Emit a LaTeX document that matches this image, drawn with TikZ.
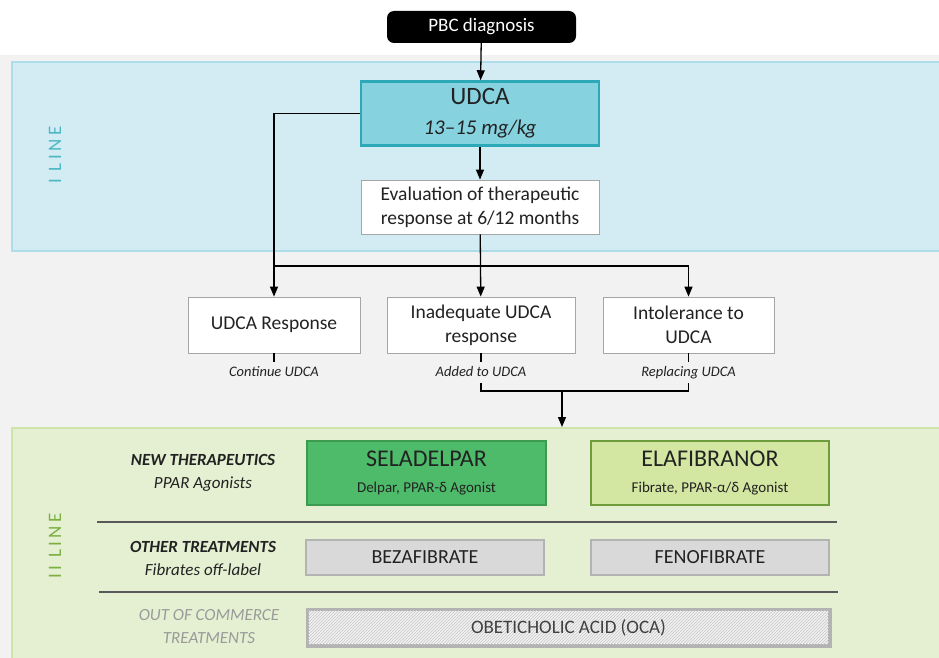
\documentclass[tikz,border=0pt]{standalone}
\usepackage{fontspec}
\setmainfont{Carlito}
\usetikzlibrary{patterns,arrows.meta}
\definecolor{bggrey}{HTML}{F2F2F2}
\definecolor{blueband}{HTML}{D3ECF3}
\definecolor{bluebord}{HTML}{AEDDEA}
\definecolor{udcafill}{HTML}{86D2DF}
\definecolor{udcabord}{HTML}{2BA9B6}
\definecolor{ilinecol}{HTML}{4CB8C4}
\definecolor{greenband}{HTML}{E5F0D2}
\definecolor{greenbord}{HTML}{CFE5A8}
\definecolor{iilinecol}{HTML}{7BB041}
\definecolor{selfill}{HTML}{4DBB6A}
\definecolor{selbord}{HTML}{3C9B4E}
\definecolor{elafill}{HTML}{D3E7A2}
\definecolor{elabord}{HTML}{6F9C3C}
\definecolor{fibfill}{HTML}{D9D9D9}
\definecolor{fibbord}{HTML}{B3B3B3}
\definecolor{txt}{HTML}{222222}
\definecolor{greytxt}{HTML}{9A9A9A}
\begin{document}
\begin{tikzpicture}[x=1pt,y=-1pt,
  arr/.style={line width=1.3pt,-{Triangle[length=10pt,width=8pt]}},
  conn/.style={line width=1.3pt},
  whitebox/.style={draw=gray!70,line width=0.8pt,fill=white,align=center,text=txt,font=\fontsize{19.5}{24}\selectfont,inner sep=0pt},
  smalllab/.style={font=\fontsize{14.5}{16}\selectfont\itshape,text=txt,text height=10pt,text depth=3pt,inner ysep=4pt,inner xsep=1pt,anchor=north},
  drugbox/.style={line width=2.5pt,align=center,inner sep=0pt,text=txt,font=\fontsize{15}{26}\selectfont},
  fibbox/.style={drugbox,fill=fibfill,draw=fibbord,minimum width=238pt,minimum height=35pt,font=\fontsize{20}{22}\selectfont},
  leftlab/.style={align=center,text=txt,font=\fontsize{17}{23}\selectfont},
  sep/.style={line width=1.2pt,draw=black!65},
  bandlab/.style={rotate=90,font=\fontsize{19}{20}\selectfont\addfontfeature{LetterSpace=18}}
]
\useasboundingbox (0,0) rectangle (939,658);
\fill[white] (0,0) rectangle (939,658);
\fill[bggrey] (0,55) rectangle (939,658);
% bands
\draw[fill=blueband,draw=bluebord,line width=2pt] (12,62) rectangle (950,251);
\draw[fill=greenband,draw=greenbord,line width=2pt] (12,428) rectangle (950,670);
\node[bandlab,text=ilinecol] (iline) at (55,155) {I LINE};
\node[bandlab,text=iilinecol] (iiline) at (55,546) {II LINE};
% top flow
\node[fill=black,rounded corners=7pt,minimum width=189pt,minimum height=32pt,text=white,font=\fontsize{19}{20}\selectfont,inner sep=0pt] (pbc) at (481.5,27) {PBC diagnosis};
\node[fill=udcafill,draw=udcabord,line width=2.5pt,minimum width=238pt,minimum height=64pt,align=center,text=txt,inner sep=0pt,font=\fontsize{21}{30}\selectfont] (udca) at (480,113.5)
  {{\fontsize{25}{30}\selectfont UDCA}\\{\itshape 13–15 mg/kg}};
\node[whitebox,minimum width=238pt,minimum height=54pt] (eval) at (480,207) {Evaluation of therapeutic\\response at 6/12 months};
\node[whitebox,minimum width=172pt,minimum height=56pt] (resp) at (274,325) {UDCA Response};
\node[whitebox,minimum width=188pt,minimum height=56pt] (inad) at (481,325) {Inadequate UDCA\\response};
\node[whitebox,minimum width=171pt,minimum height=56pt] (intol) at (688.5,325) {Intolerance to\\UDCA};
\node[smalllab] (cont) at (274,362) {Continue UDCA};
\node[smalllab] (added) at (481,362) {Added to UDCA};
\node[smalllab] (repl) at (688.5,362) {Replacing UDCA};
\coordinate (split) at (481,266);
\coordinate (join) at (562,391);
\coordinate (iientry) at (562,427);
\draw[arr] (pbc) -- (udca);
\draw[arr] (udca) -- (eval);
\draw[arr] (udca.west) -| (resp.north);
\draw[arr] (eval) -- (inad);
\draw[arr] (resp.north |- split) -| (intol.north);
\draw[conn] (resp.south) -- (cont.north);
\draw[conn] (inad.south) -- (added.north);
\draw[conn] (intol.south) -- (repl.north);
\draw[conn] (added.south) |- (join) -| (repl.south);
\draw[arr] (join) -- (iientry);
% second line
\node[leftlab] (newth) at (203,473) {{\bfseries\itshape NEW THERAPEUTICS}\\{\itshape PPAR Agonists}};
\node[leftlab] (other) at (203,558) {{\bfseries\itshape OTHER TREATMENTS}\\{\itshape Fibrates off-label}};
\node[leftlab,text=greytxt] (ooc) at (209,627) {\itshape OUT OF COMMERCE\\\itshape TREATMENTS};
\node[drugbox,fill=selfill,draw=selbord,minimum width=239pt,minimum height=64pt] (sel) at (426.5,473)
  {{\fontsize{24}{28}\selectfont SELADELPAR}\\Delpar, PPAR-δ Agonist};
\node[drugbox,fill=elafill,draw=elabord,minimum width=238pt,minimum height=64pt] (ela) at (710,473)
  {{\fontsize{24}{28}\selectfont ELAFIBRANOR}\\Fibrate, PPAR-α/δ Agonist};
\coordinate (s1a) at (97,522);
\coordinate (s1b) at (837,522);
\coordinate (s2a) at (99,592);
\coordinate (s2b) at (838,592);
\draw[sep] (s1a) -- (s1b);
\draw[sep] (s2a) -- (s2b);
\node[fibbox] (beza) at (425,557.5) {BEZAFIBRATE};
\node[fibbox] (feno) at (710,557.5) {FENOFIBRATE};
\node[fibbox,fill=bggrey,minimum width=521pt] (oca) at (568.5,627.5) {};
\fill[pattern=north east lines,pattern color=gray!45] (oca.south west) rectangle (oca.north east);
\draw[fibbord,line width=2.5pt] (oca.south west) rectangle (oca.north east);
\node[font=\fontsize{19}{20}\selectfont,text=black!75] (ocatext) at (oca.center) {OBETICHOLIC ACID (OCA)};
\end{tikzpicture}
\end{document}
